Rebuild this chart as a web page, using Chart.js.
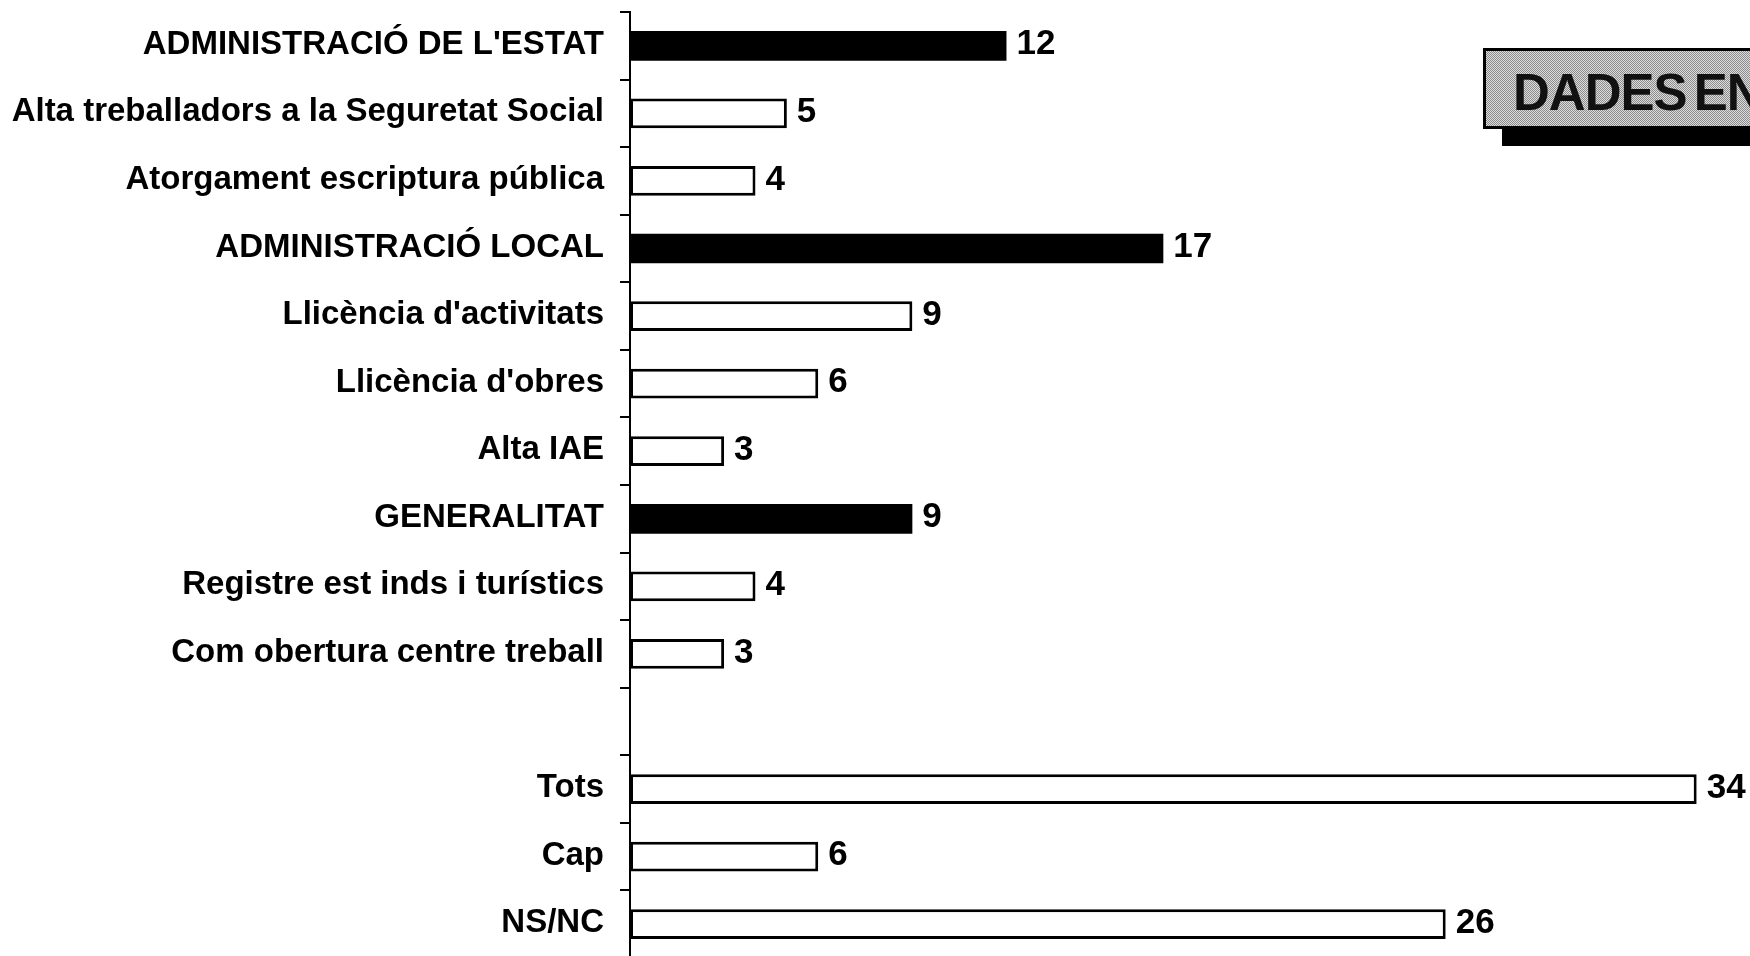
<!DOCTYPE html>
<html>
<head>
<meta charset="utf-8">
<script src="https://cdn.jsdelivr.net/npm/chart.js@4"></script>
<style>
  html, body { margin: 0; padding: 0; background: #fff; overflow: hidden; }
  #wrap { position: relative; width: 1750px; height: 960px; }
  #badge {
    position: absolute; left: 1483px; top: 48px;
    width: 320px; height: 81px;
    border: 3px solid #000;
    background: repeating-conic-gradient(#8c8c8c 0 25%, #dcdcdc 0 50%) 0 0 / 2px 2px;
    box-shadow: 19px 17px 0 #000;
    font: bold 51px "Liberation Sans", Arial, sans-serif;
    color: #111;
    line-height: 50px;
    padding: 17px 0 0 27px;
    box-sizing: border-box;
    letter-spacing: -1px;
    word-spacing: -6px;
    white-space: nowrap;
  }
</style>
</head>
<body>
<div id="wrap">
  <canvas id="chart"></canvas>
  <div id="badge">DADES EN</div>
</div>
<script>
// categories (one empty slot before the totals)
const categories = [
  "ADMINISTRACIÓ DE L'ESTAT",
  "Alta treballadors a la Seguretat Social",
  "Atorgament escriptura pública",
  "ADMINISTRACIÓ LOCAL",
  "Llicència d'activitats",
  "Llicència d'obres",
  "Alta IAE",
  "GENERALITAT",
  "Registre est inds i turístics",
  "Com obertura centre treball",
  "",
  "Tots",
  "Cap",
  "NS/NC",
];
const values = [12, 5, 4, 17, 9, 6, 3, 9, 4, 3, null, 34, 6, 26];
// headings drawn as solid bars
const isHeading = [true, false, false, true, false, false, false, true, false, false, false, false, false, false];

const labelFont = { family: "'Liberation Sans', Arial, sans-serif", size: 33, weight: "bold" };

// value labels at the end of each bar
const valueLabels = {
  id: "valueLabels",
  afterDatasetsDraw(chart) {
    const ctx = chart.ctx;
    const meta = chart.getDatasetMeta(0);
    ctx.save();
    ctx.font = "bold 35px 'Liberation Sans', Arial, sans-serif";
    ctx.fillStyle = "#000";
    ctx.textAlign = "left";
    ctx.textBaseline = "middle";
    meta.data.forEach((bar, i) => {
      if (values[i] == null) return;
      ctx.fillText(String(values[i]), bar.x + 10, bar.y - 1);
    });
    ctx.restore();
  },
};

const ctx = document.getElementById("chart").getContext("2d");
new Chart(ctx, {
  type: "bar",
  data: {
    labels: categories,
    datasets: [
      {
        data: values,
        backgroundColor: isHeading.map((h) => (h ? "#000" : "#fff")),
        borderColor: "#000",
        borderWidth: isHeading.map((h) => (h ? 0 : 3)),
        borderSkipped: false,
        barPercentage: 0.44,
        categoryPercentage: 1,
      },
    ],
  },
  options: {
    indexAxis: "y",
    responsive: true,
    maintainAspectRatio: false,
    animation: false,
    layout: { padding: { top: 12, bottom: 2, left: 0, right: 0 } },
    plugins: {
      legend: { display: false },
      tooltip: { enabled: false },
    },
    scales: {
      x: {
        display: false,
        min: 0,
        max: 35.7,
      },
      y: {
        afterFit(scale) {
          scale.width = 630;
          scale.paddingTop = 0;
          scale.paddingBottom = 0;
        },
        border: { display: true, color: "#000", width: 2 },
        grid: {
          offset: true,
          drawOnChartArea: false,
          drawTicks: true,
          tickLength: 10,
          color: "#000",
          lineWidth: 2,
        },
        ticks: {
          color: "#000",
          font: labelFont,
          padding: 16,
          labelOffset: -1,
          autoSkip: false,
        },
      },
    },
  },
  plugins: [valueLabels],
});
</script>
</body>
</html>
